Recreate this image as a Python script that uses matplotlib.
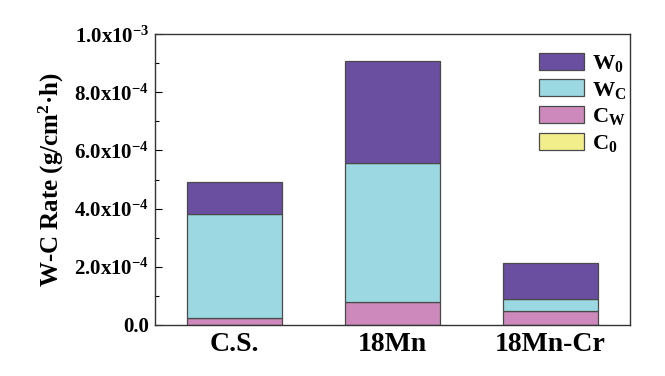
import matplotlib.pyplot as plt
import numpy as np

plt.rcParams['font.family'] = ['Liberation Serif', 'DejaVu Serif']
plt.rcParams['font.weight'] = 'bold'
plt.rcParams['mathtext.fontset'] = 'custom'
plt.rcParams['mathtext.rm'] = 'Liberation Serif:bold'
plt.rcParams['mathtext.it'] = 'Liberation Serif:bold'
plt.rcParams['mathtext.bf'] = 'Liberation Serif:bold'
plt.rcParams['mathtext.default'] = 'regular'

# data (g/cm^2.h)
steels = ["C.S.", "18Mn", "18Mn-Cr"]
c0 = [1.0e-6, 1.0e-6, 1.0e-6]
cw = [2.1e-5, 7.7e-5, 4.8e-5]
wc = [3.60e-4, 4.79e-4, 4.05e-5]
w0 = [1.11e-4, 3.50e-4, 1.25e-4]

series = [("C$_0$", c0, "#f3ee8c"),
          ("C$_W$", cw, "#cd89bb"),
          ("W$_C$", wc, "#9bd8e1"),
          ("W$_0$", w0, "#6a4fa0")]

yticks = [0, 2e-4, 4e-4, 6e-4, 8e-4, 1e-3]
ytick_labels = ["0.0", "2.0x10$^{-4}$", "4.0x10$^{-4}$", "6.0x10$^{-4}$",
                "8.0x10$^{-4}$", "1.0x10$^{-3}$"]

fig = plt.figure(figsize=(6.65, 3.76), dpi=100)
ax = fig.add_axes([0.233, 0.136, 0.714, 0.773])

x = np.arange(len(steels))
bottom = np.zeros(len(steels))
handles = {}
for name, vals, col in series:
    b = ax.bar(x, vals, 0.6, bottom=bottom, color=col, edgecolor="#4a4a4a",
               linewidth=0.9, label=name)
    handles[name] = b
    bottom += np.array(vals)

ax.set_xlim(-0.5, 2.5)
ax.set_ylim(0, 1e-3)
ax.set_xticks(x)
ax.set_xticklabels(steels, fontsize=20, fontweight="bold")
ax.tick_params(axis="x", length=0, pad=5)
ax.set_yticks(yticks)
ax.set_yticklabels(ytick_labels, fontsize=15, fontweight="bold")
ax.set_yticks(np.arange(1e-4, 1e-3, 2e-4), minor=True)
ax.tick_params(axis="y", which="major", direction="in", length=5, width=0.8, pad=4)
ax.tick_params(axis="y", which="minor", direction="in", length=3, width=0.8)
for s in ax.spines.values():
    s.set_linewidth(1.0)
    s.set_color("#333333")

ax.set_ylabel("W-C Rate (g/cm$^2$·h)", fontsize=18, fontweight="bold", labelpad=6)

order = ["W$_0$", "W$_C$", "C$_W$", "C$_0$"]
ax.legend([handles[n] for n in order], order, loc="upper right",
          bbox_to_anchor=(1.025, 0.99), frameon=False,
          fontsize=16, handlelength=2.0, handleheight=0.8, labelspacing=0.25,
          handletextpad=0.35, borderaxespad=0.3)

fig.savefig("out.png", dpi=100)
